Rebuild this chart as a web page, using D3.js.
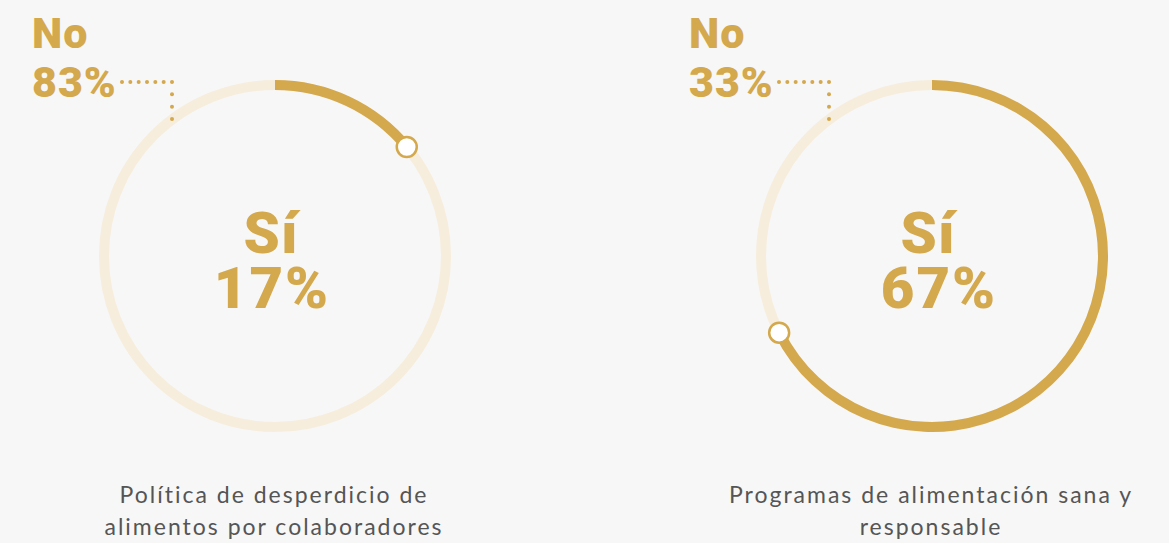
<!DOCTYPE html>
<html><head><meta charset="utf-8">
<script src="https://cdn.jsdelivr.net/npm/d3@7"></script>
<style>
html,body{margin:0;padding:0;background:#f7f7f7;}
svg{display:block;}
</style></head>
<body>
<svg id="c" width="1169" height="543"></svg>
<script>
// Data
const captions = [["Política de desperdicio de","alimentos por colaboradores"],["Programas de alimentación sana y","responsable"]];
const yesValues = [17, 67];   // "Sí" label values
const noValues = [83, 33];    // "No" label values
const arcValues = [14, 67.6]; // progress arc as drawn

const gold = "#d4a84c", light = "#f6eddc", grey = "#555555";
const svg = d3.select("#c");
const centers = [275, 932];
const cy = 256, R = 171, SW = 10;

const angle = d3.scaleLinear().domain([0, 100]).range([0, 2 * Math.PI]);

centers.forEach((cx, i) => {
  const g = svg.append("g").attr("transform", `translate(${cx},${cy})`);
  g.append("circle").attr("r", R).attr("fill", "none").attr("stroke", light).attr("stroke-width", SW);
  const arc = d3.arc().innerRadius(R - SW / 2).outerRadius(R + SW / 2).startAngle(0).endAngle(angle(arcValues[i]));
  g.append("path").attr("d", arc()).attr("fill", gold);
  const a = angle(arcValues[i]);
  g.append("circle").attr("cx", R * Math.sin(a)).attr("cy", -R * Math.cos(a)).attr("r", 10)
    .attr("fill", "#ffffff").attr("stroke", gold).attr("stroke-width", 2.5);

  const ct = g.append("text").attr("text-anchor", "middle")
    .attr("font-family", "Roboto").attr("font-weight", 900).attr("font-size", 58).attr("fill", gold);
  ct.append("tspan").attr("x", -4).attr("y", -3).attr("letter-spacing", 1).text("Sí");
  ct.append("tspan").attr("x", i === 0 ? -3 : 7).attr("y", 52).attr("letter-spacing", 2).text(yesValues[i] + "%");

  // No label
  const lx = cx - 243;
  const nt = svg.append("text").attr("font-family", "Roboto").attr("font-weight", 900)
    .attr("font-size", 43).attr("letter-spacing", 1).attr("fill", gold);
  nt.append("tspan").attr("x", lx).attr("y", 48).text("No");
  nt.append("tspan").attr("x", lx).attr("y", 97).text(noValues[i] + "%");
  // dotted leader
  const x0 = lx + 90, x1 = cx - 103, yL = 82, y1 = 119;
  const dots = [];
  for (let x = x0; x <= x1 + 0.1; x += (x1 - x0) / 6) dots.push([x, yL]);
  for (let k = 1; k <= 3; k++) dots.push([x1, yL + k * (y1 - yL) / 3]);
  svg.selectAll(null).data(dots).enter().append("circle").attr("cx", d => d[0]).attr("cy", d => d[1])
    .attr("r", 2).attr("fill", gold);

  // caption
  const t = svg.append("text").attr("text-anchor", "middle").attr("font-family", "Lato")
    .attr("font-size", 23).attr("letter-spacing", 2).attr("fill", grey);
  captions[i].forEach((line, j) => {
    t.append("tspan").attr("x", cx - 1).attr("y", 503 + j * 32).text(line);
  });
});
</script>
</body></html>
